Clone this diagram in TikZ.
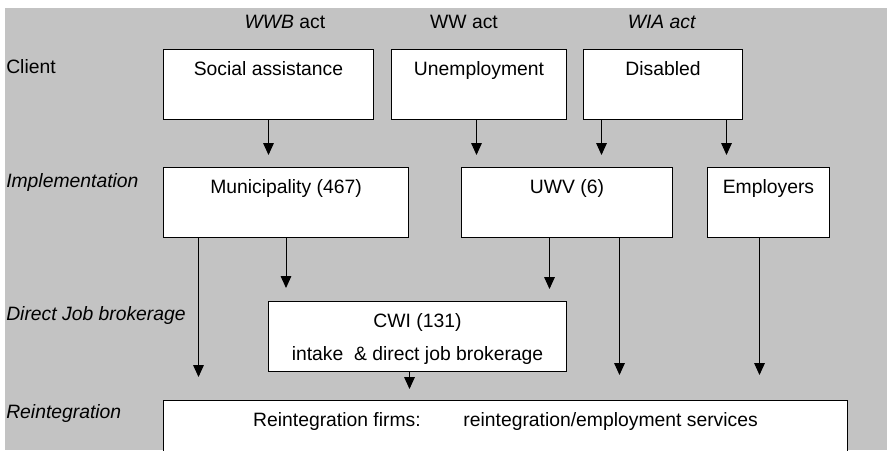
\documentclass[tikz,border=0pt]{standalone}
\usepackage{fontspec}
\setmainfont{Liberation Sans}
\usetikzlibrary{arrows.meta,calc}
\definecolor{bggray}{RGB}{195,195,195}

\begin{document}
\begin{tikzpicture}[x=0.75pt,y=-0.75pt,font=\fontsize{14.5}{17}\selectfont]

\def\pu{0.75pt}
\tikzstyle{block} = [
	draw, fill=white, rectangle, line width=\pu, anchor=north west,
	inner sep=0pt, text height=19.5pt, text depth=33pt ];
\tikzstyle{rowtxt} = [anchor=base west, inner sep=0pt, font=\fontsize{14.5}{17}\selectfont\itshape];
\tikzstyle{acttxt} = [anchor=base, inner sep=0pt];
\tikzstyle{arr} = [-{Triangle[length=9pt,width=8pt]}, line width=\pu, shorten >=9pt];

\useasboundingbox (0,0) rectangle (887,450);
\fill[bggray] (5,8) rectangle (887,450);

\node[acttxt] (wwb) at (285,28) {\textit{WWB} act};
\node[acttxt] (ww) at (464,28) {WW act};
\node[acttxt] (wia) at (662,28) {\textit{WIA act}};

\node[rowtxt,font=\fontsize{14.5}{17}\selectfont\upshape] (client) at (6,73) {Client};
\node[rowtxt] (impl) at (6,187) {Implementation};
\node[rowtxt] (djb) at (6,320) {Direct Job brokerage};
\node[rowtxt] (reint) at (6,418) {Reintegration};

\node[block,minimum width=210*\pu] (sa) at (163,49) {Social assistance};
\node[block,minimum width=175*\pu] (un) at (391,49) {Unemployment};
\node[block,minimum width=159*\pu] (dis) at (583,49) {Disabled};

\node[block,minimum width=245*\pu] (mun) at (163,167) {Municipality (467)};
\node[block,minimum width=211*\pu] (uwv) at (461,167) {UWV (6)};
\node[block,minimum width=122*\pu] (emp) at (707,167) {Employers};

\node[block,minimum width=298*\pu] (cwi) at (268,301)
	{\begin{tabular}[t]{@{}c@{}}CWI (131)\\[7.75pt]intake\ \ \& direct job brokerage\end{tabular}};

\node[block,minimum width=684*\pu] (rf) at (163,400)
	{Reintegration firms:\hspace{32pt}reintegration/employment services};

\coordinate (u1) at ($(un.south)+(-2.5,0)$);
\coordinate (d1) at ($(dis.south)+(-61.5,0)$);
\coordinate (d2) at ($(dis.south)+(63.5,0)$);
\coordinate (m1) at ($(mun.south)+(-87.5,0)$);
\coordinate (w1) at ($(uwv.south)+(-17.5,0)$);
\coordinate (w2) at ($(uwv.south)+(52.5,0)$);
\coordinate (e1) at ($(emp.south)+(-9,0)$);
\coordinate (c1) at ($(cwi.south)+(-8,0)$);

\draw[arr] (sa.south) -- (sa.south |- mun.north);
\draw[arr] (u1) -- (u1 |- uwv.north);
\draw[arr] (d1) -- (d1 |- uwv.north);
\draw[arr] (d2) -- (d2 |- emp.north);

\draw[arr,shorten >=17.25pt] (m1) -- (m1 |- rf.north);
\draw[arr,shorten >=9.75pt] (mun.south) -- (mun.south |- cwi.north);
\draw[arr] (w1) -- (w1 |- cwi.north);
\draw[arr,shorten >=18.75pt] (w2) -- (w2 |- rf.north);
\draw[arr,shorten >=18.75pt] (e1) -- (e1 |- rf.north);
\draw[arr,shorten >=8.25pt] (c1) -- (c1 |- rf.north);

\end{tikzpicture}
\end{document}
